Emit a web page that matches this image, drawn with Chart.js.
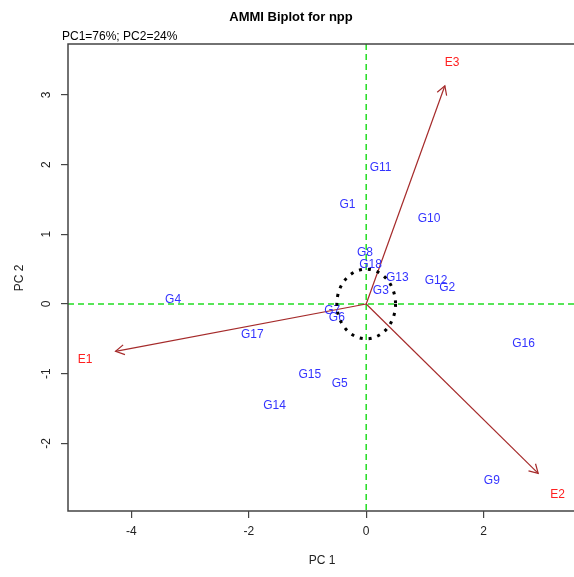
<!DOCTYPE html>
<html>
<head>
<meta charset="utf-8">
<title>AMMI Biplot for npp</title>
<script src="https://cdn.jsdelivr.net/npm/chart.js@4.4.0/dist/chart.umd.min.js"></script>
<style>
    html, body { margin: 0; padding: 0; background: #fff; overflow: hidden; }
    canvas { display: block; }
</style>
</head>
<body>
<canvas id="biplot" width="574" height="577"></canvas>
<script>
// AMMI Biplot - genotype / environment scores on PC1 and PC2

// Genotype scores
const genotypes = ['G1', 'G2', 'G3', 'G4', 'G5', 'G6', 'G7', 'G8', 'G9',
                   'G10', 'G11', 'G12', 'G13', 'G14', 'G15', 'G16', 'G17', 'G18'];
const genoPC1 = [-0.32, 1.38, 0.25, -3.29, -0.45, -0.50, -0.58, -0.02, 2.14,
                 1.07, 0.245, 1.19, 0.53, -1.56, -0.96, 2.68, -1.94, 0.075];
const genoPC2 = [1.42, 0.24, 0.19, 0.057, -1.14, -0.20, -0.09, 0.73, -2.54,
                 1.22, 1.957, 0.34, 0.38, -1.46, -1.01, -0.565, -0.445, 0.57];

// Environment scores (label position) and arrow tips
const environments = ['E1', 'E2', 'E3'];
const envPC1 = [-4.79, 3.26, 1.465];
const envPC2 = [-0.80, -2.73, 3.455];
const arrowPC1 = [-4.27, 2.93, 1.34];
const arrowPC2 = [-0.68, -2.43, 3.13];

// Axes
const xTicks = [-4, -2, 0, 2];
const yTicks = [-2, -1, 0, 1, 2, 3];
const xRange = [-5.08, 3.54];
const yRange = [-2.97, 3.73];
const circleRadius = 0.5;

const FONT = "'Liberation Sans', Arial, sans-serif";
const GENO_COLOR = '#3333ff';
const ENV_COLOR = '#ff2020';
const ARROW_COLOR = '#a52a2a';

// Text labels at each point
const pointLabels = {
    id: 'pointLabels',
    afterDatasetsDraw(chart) {
        const ctx = chart.ctx;
        ctx.save();
        ctx.font = `12px ${FONT}`;
        ctx.textAlign = 'center';
        ctx.textBaseline = 'middle';
        chart.data.datasets.forEach((ds, i) => {
            if (!ds.textLabels) return;
            const meta = chart.getDatasetMeta(i);
            ctx.fillStyle = ds.textColor;
            meta.data.forEach((pt, j) => {
                ctx.fillText(ds.textLabels[j], pt.x, pt.y);
            });
        });
        ctx.restore();
    }
};

// Arrow heads on the environment vectors
const arrowHeads = {
    id: 'arrowHeads',
    afterDatasetsDraw(chart) {
        const ctx = chart.ctx;
        ctx.save();
        ctx.strokeStyle = ARROW_COLOR;
        ctx.lineWidth = 1.2;
        chart.data.datasets.forEach((ds, i) => {
            if (!ds.isArrow) return;
            const pts = chart.getDatasetMeta(i).data;
            const a = pts[0], b = pts[1];
            const ang = Math.atan2(b.y - a.y, b.x - a.x);
            const len = 10;
            ctx.beginPath();
            ctx.moveTo(b.x - len * Math.cos(ang - Math.PI / 6), b.y - len * Math.sin(ang - Math.PI / 6));
            ctx.lineTo(b.x, b.y);
            ctx.lineTo(b.x - len * Math.cos(ang + Math.PI / 6), b.y - len * Math.sin(ang + Math.PI / 6));
            ctx.stroke();
        });
        ctx.restore();
    }
};

// Frame, zero lines, circle and text around the plot
const decorations = {
    id: 'decorations',
    beforeDatasetsDraw(chart) {
        const { ctx, chartArea: area, scales: { x, y } } = chart;
        ctx.save();
        // green dashed lines through the origin
        ctx.strokeStyle = '#22dd22';
        ctx.lineWidth = 1.5;
        ctx.setLineDash([6, 4]);
        ctx.beginPath();
        ctx.moveTo(area.left, y.getPixelForValue(0));
        ctx.lineTo(area.right, y.getPixelForValue(0));
        ctx.moveTo(x.getPixelForValue(0), area.top);
        ctx.lineTo(x.getPixelForValue(0), area.bottom);
        ctx.stroke();
        ctx.restore();
    },
    afterDraw(chart) {
        const { ctx, chartArea: area, scales: { x, y } } = chart;
        ctx.save();

        // dotted circle around the origin
        const cx = x.getPixelForValue(0), cy = y.getPixelForValue(0);
        const rx = x.getPixelForValue(circleRadius) - cx;
        const ry = cy - y.getPixelForValue(circleRadius);
        ctx.strokeStyle = '#000';
        ctx.lineWidth = 3;
        ctx.setLineDash([3, 6]);
        ctx.beginPath();
        ctx.ellipse(cx, cy, rx, ry, 0, 0, Math.PI * 2);
        ctx.stroke();
        ctx.setLineDash([]);

        // frame (right side runs off the picture)
        ctx.strokeStyle = '#444';
        ctx.lineWidth = 1.5;
        ctx.beginPath();
        ctx.moveTo(area.right + 2, area.top);
        ctx.lineTo(area.left, area.top);
        ctx.lineTo(area.left, area.bottom);
        ctx.lineTo(area.right + 2, area.bottom);
        ctx.stroke();

        // rotated y tick labels
        ctx.fillStyle = '#222';
        ctx.font = `12px ${FONT}`;
        ctx.textAlign = 'center';
        ctx.textBaseline = 'middle';
        yTicks.forEach(v => {
            ctx.save();
            ctx.translate(47, y.getPixelForValue(v));
            ctx.rotate(-Math.PI / 2);
            ctx.fillText(String(v), 0, 0);
            ctx.restore();
        });

        // axis titles
        ctx.fillText('PC 1', 322, 561);
        ctx.save();
        ctx.translate(20, 278);
        ctx.rotate(-Math.PI / 2);
        ctx.fillText('PC 2', 0, 0);
        ctx.restore();

        // main title and subtitle
        ctx.fillStyle = '#000';
        ctx.font = `bold 13px ${FONT}`;
        ctx.fillText('AMMI Biplot for npp', 291, 17);
        ctx.font = `12px ${FONT}`;
        ctx.textAlign = 'left';
        ctx.fillText('PC1=76%; PC2=24%', 62, 37);
        ctx.restore();
    }
};

function createBiplot() {
    const ctx = document.getElementById('biplot');
    if (!ctx) return;

    const arrowSets = environments.map((env, i) => ({
        label: env + ' vector',
        type: 'scatter',
        showLine: true,
        isArrow: true,
        data: [{ x: 0, y: 0 }, { x: arrowPC1[i], y: arrowPC2[i] }],
        borderColor: ARROW_COLOR,
        borderWidth: 1.2,
        pointRadius: 0
    }));

    new Chart(ctx, {
        type: 'scatter',
        data: {
            datasets: [
                ...arrowSets,
                {
                    label: 'Genotypes',
                    data: genotypes.map((g, i) => ({ x: genoPC1[i], y: genoPC2[i] })),
                    textLabels: genotypes,
                    textColor: GENO_COLOR,
                    pointRadius: 0
                },
                {
                    label: 'Environments',
                    data: environments.map((e, i) => ({ x: envPC1[i], y: envPC2[i] })),
                    textLabels: environments,
                    textColor: ENV_COLOR,
                    pointRadius: 0
                }
            ]
        },
        options: {
            responsive: false,
            animation: false,
            layout: { padding: { top: 44, left: 0, right: 0, bottom: 0 } },
            plugins: {
                legend: { display: false },
                tooltip: { enabled: false },
                title: { display: false }
            },
            scales: {
                x: {
                    type: 'linear',
                    min: xRange[0],
                    max: xRange[1],
                    afterBuildTicks: (scale) => { scale.ticks = xTicks.map(v => ({ value: v })); },
                    afterFit: (scale) => { scale.height = 66; },
                    grid: { drawOnChartArea: false, drawTicks: true, tickLength: 7, color: '#444', lineWidth: 1.2 },
                    border: { display: false },
                    ticks: {
                        color: '#222',
                        font: { family: FONT, size: 12 },
                        padding: 6,
                        maxRotation: 0,
                        autoSkip: false
                    }
                },
                y: {
                    type: 'linear',
                    min: yRange[0],
                    max: yRange[1],
                    afterBuildTicks: (scale) => { scale.ticks = yTicks.map(v => ({ value: v })); },
                    afterFit: (scale) => { scale.width = 68; },
                    grid: { drawOnChartArea: false, drawTicks: true, tickLength: 7, color: '#444', lineWidth: 1.2 },
                    border: { display: false },
                    ticks: { color: 'rgba(0,0,0,0)', font: { family: FONT, size: 12 }, autoSkip: false }
                }
            }
        },
        plugins: [decorations, arrowHeads, pointLabels]
    });
}

document.addEventListener('DOMContentLoaded', () => {
    createBiplot();
});
</script>
</body>
</html>
